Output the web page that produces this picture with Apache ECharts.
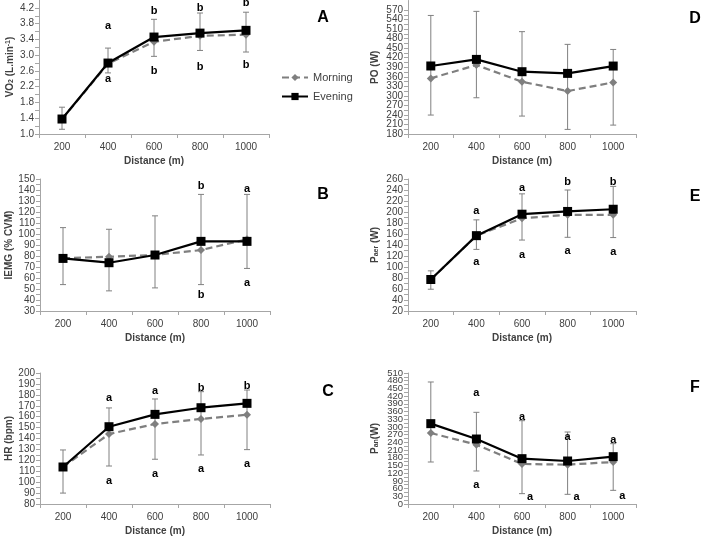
<!DOCTYPE html>
<html lang="en">
<head>
    <meta charset="UTF-8">
    <title>Morning vs Evening</title>
    <script type="text/javascript" src="https://cdn.jsdelivr.net/npm/echarts@6/dist/echarts.min.js"></script>
    <style>
        html, body { margin: 0; padding: 0; background: #fff; }
        #main { width: 703px; height: 541px; }
    </style>
</head>
<body>
<div id="main"></div>
<script type="text/javascript">
    // x categories, shared by all panels
    const distance = ['200', '400', '600', '800', '1000'];

    // A - VO2
    const vo2Morning = [1.38, 2.78, 3.34, 3.49, 3.52];
    const vo2Evening = [1.38, 2.80, 3.46, 3.56, 3.63];
    const vo2Low = [1.12, 2.55, 2.97, 3.12, 3.08];
    const vo2High = [1.68, 3.18, 3.91, 4.07, 4.09];
    const vo2UpTxt = ['', 'a', 'b', 'b', 'b'];
    const vo2UpAt = [0, 3.73, 4.13, 4.20, 4.32];
    const vo2DnTxt = ['', 'a', 'b', 'b', 'b'];
    const vo2DnAt = [0, 2.39, 2.60, 2.69, 2.74];
    const vo2Ticks = [1.0, 1.4, 1.8, 2.2, 2.6, 3.0, 3.4, 3.8, 4.2];

    // B - iEMG
    const emgMorning = [78, 79.3, 81, 85.4, 95.2];
    const emgEvening = [77.8, 73.9, 80.9, 93.3, 93.3];
    const emgLow = [54, 48.3, 51, 54, 68.7];
    const emgHigh = [105.8, 104.3, 116.5, 136, 136];
    const emgUpTxt = ['', '', '', 'b', 'a'];
    const emgUpAt = [0, 0, 0, 143.3, 140.9];
    const emgDnTxt = ['', '', '', 'b', 'a'];
    const emgDnAt = [0, 0, 0, 44.3, 55.9];
    const emgTicks = [30, 40, 50, 60, 70, 80, 90, 100, 110, 120, 130, 140, 150];

    // C - HR
    const hrMorning = [114, 144.1, 153.3, 157.9, 161.8];
    const hrEvening = [113.9, 150.8, 162.1, 168.2, 172.2];
    const hrLow = [90, 114.8, 121, 124.9, 129.8];
    const hrHigh = [129.5, 168, 176.2, 182.9, 184.4];
    const hrUpTxt = ['', 'a', 'a', 'b', 'b'];
    const hrUpAt = [0, 177.1, 183.8, 186.3, 188.4];
    const hrDnTxt = ['', 'a', 'a', 'a', 'a'];
    const hrDnAt = [0, 101.4, 107.5, 112, 116.6];
    const hrTicks = [80, 90, 100, 110, 120, 130, 140, 150, 160, 170, 180, 190, 200];

    // D - PO
    const poMorning = [355, 397, 344.5, 315, 342.4];
    const poEvening = [394, 414.7, 376, 370.7, 393.8];
    const poLow = [239.6, 294, 236.4, 194.5, 208];
    const poHigh = [553, 565.8, 502, 462, 446];
    const poTicks = [180, 210, 240, 270, 300, 330, 360, 390, 420, 450, 480, 510, 540, 570];

    // E - Paer
    const aerMorning = [77, 157, 188.7, 194.8, 194.8];
    const aerEvening = [77.3, 157, 196, 201, 205];
    const aerLow = [59.6, 132, 149, 154, 153.5];
    const aerHigh = [93, 185.7, 233, 240, 246.6];
    const aerUpTxt = ['', 'a', 'a', 'b', 'b'];
    const aerUpAt = [0, 201, 243.5, 254, 254];
    const aerDnTxt = ['', 'a', 'a', 'a', 'a'];
    const aerDnAt = [0, 109.5, 121.7, 129.6, 127.8];
    const aerTicks = [20, 40, 60, 80, 100, 120, 140, 160, 180, 200, 220, 240, 260];

    // F - Pan
    const anMorning = [276.4, 231, 155.8, 153.2, 163.5];
    const anEvening = [312.8, 253, 176.5, 167.4, 184.3];
    const anLow = [163.5, 128.5, 40.3, 37.7, 53.2];
    const anHigh = [475, 356.9, 324.4, 280.3, 234.9];
    const anUpTxt = ['', 'a', 'a', 'a', 'a'];
    const anUpAt = [0, 432, 338.7, 260.9, 250.5];
    const anDnTxt = ['', 'a', 'a', 'a', 'a'];
    const anDnAt = [0, 75.3, 26, 26, 30];
    const anTicks = [0, 30, 60, 90, 120, 150, 180, 210, 240, 270, 300, 330, 360, 390, 420, 450, 480, 510];

    const FONT = '"Liberation Sans", Arial, sans-serif';
    const AXIS_GREY = '#a6a6a6';
    const TXT = '#404040';

    const panels = [
        {grid: {left: 39, top: 0, width: 230, height: 134}, min: 1.0, max: 4.4, ticks: vo2Ticks, dec: 1,
            name: 'VO{sub|2} (L.min{sup|-1})', gap: 24, fs: 10,
            m: vo2Morning, e: vo2Evening, lo: vo2Low, hi: vo2High,
            up: [vo2UpTxt, vo2UpAt], dn: [vo2DnTxt, vo2DnAt], dnShift: [0, 0, 0, 0, 0]},
        {grid: {left: 40, top: 179, width: 230, height: 132}, min: 30, max: 150, ticks: emgTicks, dec: 0,
            name: 'IEMG (% CVM)', gap: 24, fs: 10,
            m: emgMorning, e: emgEvening, lo: emgLow, hi: emgHigh,
            up: [emgUpTxt, emgUpAt], dn: [emgDnTxt, emgDnAt], dnShift: [0, 0, 0, 0, 0]},
        {grid: {left: 40, top: 373, width: 230, height: 131}, min: 80, max: 200, ticks: hrTicks, dec: 0,
            name: 'HR (bpm)', gap: 24, fs: 10,
            m: hrMorning, e: hrEvening, lo: hrLow, hi: hrHigh,
            up: [hrUpTxt, hrUpAt], dn: [hrDnTxt, hrDnAt], dnShift: [0, 0, 0, 0, 0]},
        {grid: {left: 408, top: 0.5, width: 228, height: 133.5}, min: 180, max: 600, ticks: poTicks, dec: 0,
            name: 'PO (W)', gap: 28, fs: 10,
            m: poMorning, e: poEvening, lo: poLow, hi: poHigh, up: null, dn: null},
        {grid: {left: 408, top: 179, width: 228, height: 132}, min: 20, max: 260, ticks: aerTicks, dec: 0,
            name: 'P{sub|aer} (W)', gap: 28, fs: 10,
            m: aerMorning, e: aerEvening, lo: aerLow, hi: aerHigh,
            up: [aerUpTxt, aerUpAt], dn: [aerDnTxt, aerDnAt], dnShift: [0, 0, 0, 0, 0]},
        {grid: {left: 408, top: 373, width: 228, height: 131}, min: 0, max: 510, ticks: anTicks, dec: 0,
            name: 'P{sub|an}(W)', gap: 28, fs: 9.5,
            m: anMorning, e: anEvening, lo: anLow, hi: anHigh,
            up: [anUpTxt, anUpAt], dn: [anDnTxt, anDnAt], dnShift: [0, 0, 8, 9, 9]}
    ];

    // error bar with small caps
    const errorBar = function (params, api) {
        const lo = api.coord([api.value(0), api.value(1)]);
        const hi = api.coord([api.value(0), api.value(2)]);
        const w = 3;
        const st = {stroke: '#808080', lineWidth: 1};
        return {
            type: 'group', children: [
                {type: 'line', shape: {x1: lo[0], y1: lo[1], x2: hi[0], y2: hi[1]}, style: st},
                {type: 'line', shape: {x1: lo[0] - w, y1: lo[1], x2: lo[0] + w, y2: lo[1]}, style: st},
                {type: 'line', shape: {x1: hi[0] - w, y1: hi[1], x2: hi[0] + w, y2: hi[1]}, style: st}
            ]
        };
    };

    // significance letters (a / b)
    const letterSeries = function (idx, yIdx, txt, at, shift) {
        const items = [];
        txt.forEach(function (t, i) {
            if (t) items.push({value: [i, at[i]], t: t, dx: shift ? shift[i] : 0});
        });
        return {
            type: 'custom', xAxisIndex: idx, yAxisIndex: yIdx, z: 5, silent: true,
            data: items.map(function (d) { return d.value; }),
            renderItem: function (params, api) {
                const it = items[params.dataIndex];
                const p = api.coord([api.value(0), api.value(1)]);
                return {
                    type: 'text', x: p[0] + it.dx, y: p[1],
                    style: {text: it.t, fill: '#000', font: 'bold 11px ' + FONT, align: 'center', verticalAlign: 'middle'}
                };
            }
        };
    };

    // minor ticks halfway between the labelled ones
    const halfTicks = function (t) {
        const out = [];
        for (let k = 0; k < t.length - 1; k++) out.push((t[k] + t[k + 1]) / 2);
        return out;
    };

    const grids = [], xAxes = [], yAxes = [], series = [];
    panels.forEach(function (p, i) {
        grids.push(Object.assign({containLabel: false}, p.grid));
        xAxes.push({
            type: 'category', gridIndex: i, data: distance, boundaryGap: true,
            name: 'Distance (m)', nameLocation: 'middle', nameGap: 22,
            nameTextStyle: {fontFamily: FONT, fontSize: 10, fontWeight: 'bold', color: TXT},
            axisLine: {lineStyle: {color: AXIS_GREY}},
            axisTick: {show: true, length: 4, lineStyle: {color: AXIS_GREY}},
            axisLabel: {fontFamily: FONT, fontSize: 10, color: TXT, margin: 8},
            splitLine: {show: false}
        });
        const dec = p.dec;
        const fmt = function (v) { return v.toFixed(dec); };
        // labels split over two stacked axes so the dense ones are not dropped
        const evenLab = p.ticks.filter(function (v, k) { return k % 2 === 0; });
        const oddLab = p.ticks.filter(function (v, k) { return k % 2 === 1; });
        const yMain = yAxes.length;
        yAxes.push({
            type: 'value', gridIndex: i, min: p.min, max: p.max, position: 'left',
            name: p.name, nameLocation: 'middle', nameGap: p.gap, nameRotate: 90,
            nameTextStyle: {
                fontFamily: FONT, fontSize: 10, fontWeight: 'bold', color: TXT,
                rich: {
                    sub: {fontFamily: FONT, fontSize: 7, fontWeight: 'bold', color: TXT, verticalAlign: 'bottom'},
                    sup: {fontFamily: FONT, fontSize: 7, fontWeight: 'bold', color: TXT, verticalAlign: 'top'}
                }
            },
            axisLine: {show: true, lineStyle: {color: AXIS_GREY}},
            axisTick: {show: true, length: 4, lineStyle: {color: AXIS_GREY},
                customValues: p.ticks.concat(halfTicks(p.ticks))},
            axisLabel: {fontFamily: FONT, fontSize: p.fs, color: TXT, margin: 5,
                showMinLabel: true, showMaxLabel: true, customValues: evenLab, formatter: fmt},
            splitLine: {show: false}
        });
        yAxes.push({
            type: 'value', gridIndex: i, min: p.min, max: p.max, position: 'left', offset: 0,
            axisLine: {show: false}, axisTick: {show: false},
            axisLabel: {fontFamily: FONT, fontSize: p.fs, color: TXT, margin: 5,
                showMinLabel: true, showMaxLabel: true, customValues: oddLab, formatter: fmt},
            splitLine: {show: false}
        });

        series.push({
            type: 'custom', name: 'err' + i, xAxisIndex: i, yAxisIndex: yMain, z: 1, silent: true,
            renderItem: errorBar,
            encode: {x: 0, y: [1, 2]},
            data: distance.map(function (d, k) { return [k, p.lo[k], p.hi[k]]; })
        });
        series.push({
            type: 'line', name: 'Morning', xAxisIndex: i, yAxisIndex: yMain, z: 2,
            data: p.m, symbol: 'diamond', symbolSize: 8,
            itemStyle: {color: '#7f7f7f'},
            lineStyle: {color: '#7f7f7f', width: 2.2, type: [7, 4]}
        });
        series.push({
            type: 'line', name: 'Evening', xAxisIndex: i, yAxisIndex: yMain, z: 3,
            data: p.e, symbol: 'rect', symbolSize: 9,
            itemStyle: {color: '#000'},
            lineStyle: {color: '#000', width: 2.2}
        });
        if (p.up) series.push(letterSeries(i, yMain, p.up[0], p.up[1], null));
        if (p.dn) series.push(letterSeries(i, yMain, p.dn[0], p.dn[1], p.dnShift));
    });

    const panelLetter = function (t, x, y) {
        return {type: 'text', x: x, y: y, style: {text: t, fill: '#000', font: 'bold 16px ' + FONT, align: 'center', verticalAlign: 'middle'}};
    };

    const myChart = echarts.init(document.getElementById('main'), null, {renderer: 'canvas'});
    myChart.setOption({
        animation: false,
        backgroundColor: '#fff',
        grid: grids,
        xAxis: xAxes,
        yAxis: yAxes,
        legend: {
            data: ['Morning', 'Evening'], orient: 'vertical', left: 276, top: 67,
            itemWidth: 26, itemHeight: 9, itemGap: 8,
            textStyle: {fontFamily: FONT, fontSize: 11, color: TXT}
        },
        graphic: [
            panelLetter('A', 323, 18),
            panelLetter('B', 323, 195),
            panelLetter('C', 328, 392),
            panelLetter('D', 695, 19),
            panelLetter('E', 695, 197),
            panelLetter('F', 695, 388)
        ],
        series: series
    });
</script>
</body>
</html>
